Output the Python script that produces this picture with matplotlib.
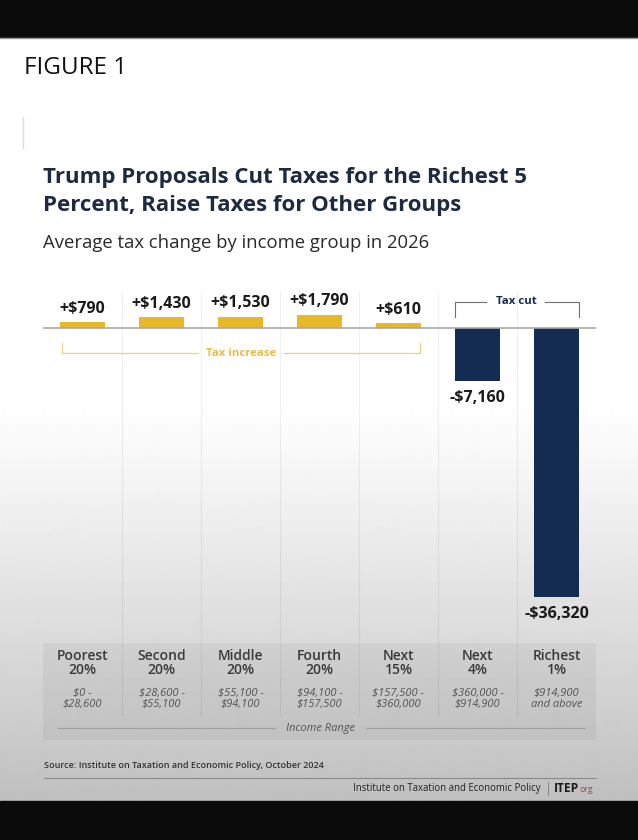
import numpy as np
import matplotlib.pyplot as plt
from matplotlib.patches import Rectangle

plt.rcParams['font.family'] = ['Open Sans', 'DejaVu Sans']

# data
groups = ['Poorest\n20%', 'Second\n20%', 'Middle\n20%', 'Fourth\n20%',
          'Next\n15%', 'Next\n4%', 'Richest\n1%']
ranges = ['$0 -\n$28,600', '$28,600 -\n$55,100', '$55,100 -\n$94,100',
          '$94,100 -\n$157,500', '$157,500 -\n$360,000', '$360,000 -\n$914,900',
          '$914,900\nand above']
tax_change = [790, 1430, 1530, 1790, 610, -7160, -36320]

W, H = 638, 840
YELLOW = '#e8b828'
NAVY = '#152c52'
TITLE = '#1d2a42'

fig = plt.figure(figsize=(W / 100, H / 100), dpi=100)

# background in pixel coordinates
bg = fig.add_axes([0, 0, 1, 1], zorder=0)
bg.set_xlim(0, W)
bg.set_ylim(H, 0)
bg.axis('off')

yy = np.arange(H)
t = np.clip((yy - 400) / 400.0, 0, 1)
shade = 1.0 - 0.25 * (t ** 1.1)
bg.imshow(np.repeat(shade[:, None], 2, axis=1), cmap='gray', vmin=0, vmax=1,
          extent=[0, W, H, 0], aspect='auto', interpolation='bilinear')

bg.add_patch(Rectangle((0, 0), W, 37, color='#0b0b0b'))
bg.plot([0, W], [37.5, 37.5], color='#9a9a9a', lw=1)
bg.add_patch(Rectangle((0, 801), W, 40, color='#0b0b0b'))

bg.text(24, 68, 'FIGURE 1', fontsize=17.5, color='#111111', va='center')
bg.plot([23, 23], [117, 148], color='#dddddd', lw=1)

bg.text(43, 177, 'Trump Proposals Cut Taxes for the Richest 5', fontsize=16,
        fontweight='bold', color=TITLE, va='center')
bg.text(43, 205, 'Percent, Raise Taxes for Other Groups', fontsize=16,
        fontweight='bold', color=TITLE, va='center')
bg.text(43, 243, 'Average tax change by income group in 2026', fontsize=13.3,
        color='#2a2a2a', va='center')

# column geometry
left, right = 43, 596
col = (right - left) / len(groups)
centers = [left + col * (i + 0.5) for i in range(len(groups))]

for i in range(1, len(groups)):
    x = left + col * i
    bg.plot([x, x], [292, 716], color='black', alpha=0.06, lw=0.8, zorder=1)

# bottom panel
bg.add_patch(Rectangle((left, 643), right - left, 97, color='black', alpha=0.045,
                       lw=0, zorder=1))
for cx, g, r in zip(centers, groups, ranges):
    bg.text(cx, 663, g, ha='center', va='center', fontsize=10, color='#3a3a3a',
            linespacing=0.95, fontweight='semibold')
    bg.text(cx, 699, r, ha='center', va='center', fontsize=8, color='#555555',
            style='italic', linespacing=1.1)
bg.text(320, 728, 'Income Range', ha='center', va='center', fontsize=8,
        style='italic', color='#555555')
bg.plot([58, 275], [728, 728], color='#a0a0a0', lw=0.8)
bg.plot([366, 585], [728, 728], color='#a0a0a0', lw=0.8)

# brackets
inc_c = '#ecd27e'
bg.plot([62, 62, 198], [343, 353, 353], color=inc_c, lw=0.9)
bg.plot([284, 420, 420], [353, 353, 343], color=inc_c, lw=0.9)
bg.text(241, 353, 'Tax increase', ha='center', va='center', fontsize=8.2,
        fontweight='bold', color='#e6bd45')
cut_c = '#707070'
bg.plot([455, 455, 486], [317, 302, 302], color=cut_c, lw=0.8)
bg.plot([545, 579, 579], [302, 302, 317], color=cut_c, lw=0.8)
bg.text(516, 302, 'Tax cut', ha='center', va='center', fontsize=8.2,
        fontweight='bold', color=NAVY)

# footer
bg.text(44, 765, 'Source: Institute on Taxation and Economic Policy, October 2024',
        fontsize=6.5, fontweight='semibold', color='#333333', va='center')
bg.plot([44, 596], [778, 778], color='#8a8a8a', lw=0.8)
bg.text(541, 788, 'Institute on Taxation and Economic Policy', fontsize=6.9,
        color='#222222', va='center', ha='right', fontweight='medium')
bg.plot([548, 548], [782, 795], color='#888888', lw=0.7)
bg.text(554, 788, 'ITEP', fontsize=8.6, fontweight='bold', color='#1a1a1a',
        va='center')
bg.text(580, 789.5, 'org', fontsize=6.3, color='#a8483c', va='center')

# bar chart
base_px, top_px, bot_px = 328, 280, 640
px_per_unit = 269 / 36320
ax = fig.add_axes([left / W, 1 - bot_px / H, (right - left) / W, (bot_px - top_px) / H],
                  zorder=2)
ax.patch.set_alpha(0)
ax.set_xlim(-0.5, len(groups) - 0.5)
ax.set_ylim(-(bot_px - base_px) / px_per_unit, (base_px - top_px) / px_per_unit)
ax.axis('off')

x = np.arange(len(groups))
colors = [YELLOW if v > 0 else NAVY for v in tax_change]
ax.bar(x, tax_change, width=0.56, color=colors, zorder=2)
ax.axhline(0, color='#a8a8a8', lw=1.2, zorder=3)

for xi, v in zip(x, tax_change):
    if v > 0:
        ax.annotate(f'+${v:,}', (xi, v), xytext=(0, 4), textcoords='offset points',
                    ha='center', va='bottom', fontsize=11.5, fontweight='bold',
                    color='#1a1a1a')
    else:
        ax.annotate(f'-${-v:,}', (xi, v), xytext=(0, -6.5), textcoords='offset points',
                    ha='center', va='top', fontsize=11.5, fontweight='bold',
                    color='#1a1a1a')

fig.savefig('out.png', dpi=100)
